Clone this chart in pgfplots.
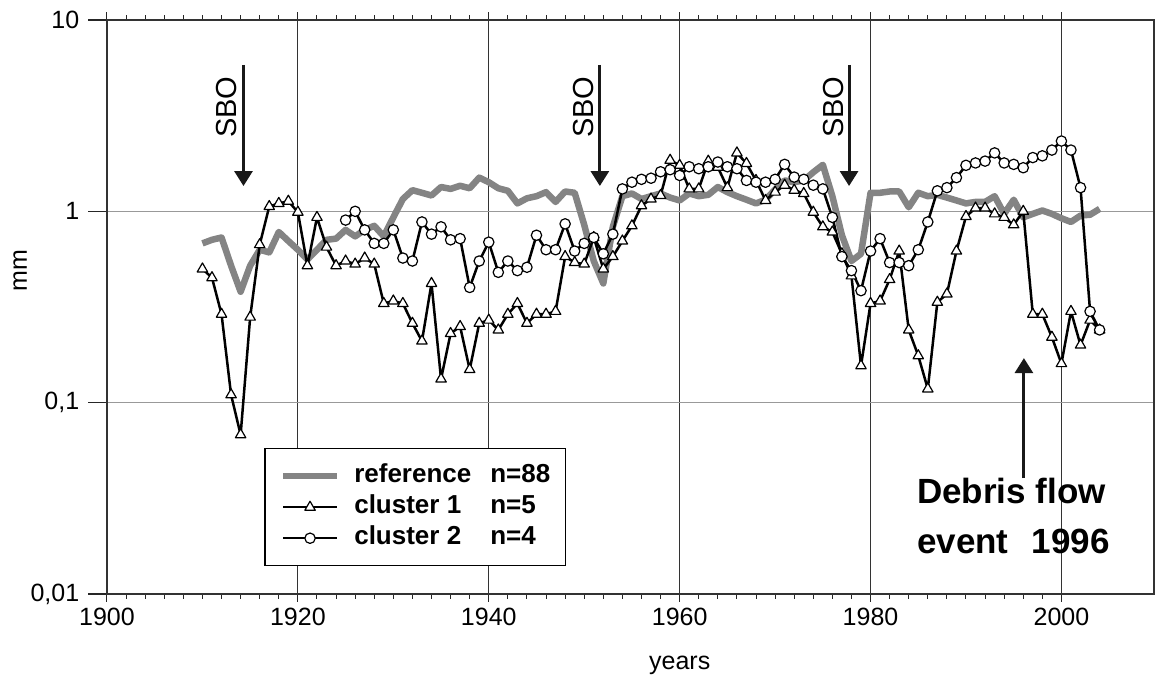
\documentclass[border=0pt]{standalone}
\usepackage{fontspec}
\setmainfont{Liberation Sans}
\usepackage{pgfplots}
\pgfplotsset{compat=1.18}
\usetikzlibrary{arrows.meta}
\definecolor{refgray}{RGB}{132,132,132}

\pgfplotstableread{
x y
1910 0.68
1911 0.71
1912 0.73
1913 0.52
1914 0.38
1915 0.52
1916 0.63
1917 0.61
1918 0.78
1919 0.70
1920 0.63
1921 0.56
1922 0.63
1923 0.71
1924 0.72
1925 0.80
1926 0.74
1927 0.80
1928 0.84
1929 0.74
1930 0.93
1931 1.16
1932 1.29
1933 1.25
1934 1.21
1935 1.34
1936 1.31
1937 1.36
1938 1.32
1939 1.50
1940 1.42
1941 1.32
1942 1.28
1943 1.10
1944 1.17
1945 1.20
1946 1.26
1947 1.12
1948 1.27
1949 1.25
1950 0.85
1951 0.55
1952 0.42
1953 0.83
1954 1.20
1955 1.24
1956 1.16
1957 1.20
1958 1.24
1959 1.18
1960 1.14
1961 1.24
1962 1.20
1963 1.22
1964 1.34
1965 1.26
1966 1.20
1967 1.15
1968 1.10
1969 1.15
1970 1.30
1971 1.45
1972 1.42
1973 1.45
1974 1.60
1975 1.75
1976 1.20
1977 0.75
1978 0.55
1979 0.60
1980 1.25
1981 1.25
1982 1.27
1983 1.27
1984 1.05
1985 1.25
1986 1.20
1987 1.22
1988 1.18
1989 1.14
1990 1.10
1991 1.12
1992 1.12
1993 1.20
1994 0.97
1995 1.15
1996 0.93
1997 0.97
1998 1.01
1999 0.97
2000 0.92
2001 0.88
2002 0.95
2003 0.96
2004 1.03
}\refdata

\pgfplotstableread{
x y
1910 0.50
1911 0.45
1912 0.29
1913 0.11
1914 0.068
1915 0.28
1916 0.67
1917 1.06
1918 1.10
1919 1.13
1920 0.99
1921 0.52
1922 0.93
1923 0.65
1924 0.52
1925 0.55
1926 0.53
1927 0.57
1928 0.53
1929 0.33
1930 0.34
1931 0.33
1932 0.26
1933 0.21
1934 0.42
1935 0.133
1936 0.23
1937 0.25
1938 0.149
1939 0.26
1940 0.27
1941 0.24
1942 0.29
1943 0.33
1944 0.26
1945 0.29
1946 0.29
1947 0.30
1948 0.58
1949 0.54
1950 0.53
1951 0.73
1952 0.50
1953 0.58
1954 0.70
1955 0.84
1956 1.07
1957 1.16
1958 1.21
1959 1.85
1960 1.74
1961 1.31
1962 1.31
1963 1.83
1964 1.70
1965 1.33
1966 2.02
1967 1.78
1968 1.45
1969 1.14
1970 1.26
1971 1.37
1972 1.29
1973 1.24
1974 0.99
1975 0.83
1976 0.78
1977 0.60
1978 0.46
1979 0.156
1980 0.33
1981 0.34
1982 0.44
1983 0.62
1984 0.24
1985 0.176
1986 0.118
1987 0.335
1988 0.37
1989 0.62
1990 0.94
1991 1.04
1992 1.04
1993 0.97
1994 0.93
1995 0.85
1996 1.00
1997 0.29
1998 0.29
1999 0.22
2000 0.16
2001 0.30
2002 0.20
2003 0.27
2004 0.24
}\clusterone

\pgfplotstableread{
x y
1925 0.90
1926 1.00
1927 0.80
1928 0.68
1929 0.68
1930 0.80
1931 0.57
1932 0.55
1933 0.88
1934 0.76
1935 0.83
1936 0.71
1937 0.72
1938 0.40
1939 0.55
1940 0.69
1941 0.48
1942 0.55
1943 0.49
1944 0.51
1945 0.75
1946 0.63
1947 0.63
1948 0.86
1949 0.62
1950 0.68
1951 0.73
1952 0.60
1953 0.76
1954 1.31
1955 1.42
1956 1.47
1957 1.49
1958 1.61
1959 1.65
1960 1.54
1961 1.71
1962 1.67
1963 1.71
1964 1.81
1965 1.71
1966 1.67
1967 1.45
1968 1.42
1969 1.42
1970 1.47
1971 1.76
1972 1.51
1973 1.47
1974 1.37
1975 1.31
1976 0.93
1977 0.58
1978 0.49
1979 0.385
1980 0.62
1981 0.72
1982 0.54
1983 0.54
1984 0.52
1985 0.63
1986 0.88
1987 1.28
1988 1.33
1989 1.50
1990 1.74
1991 1.79
1992 1.83
1993 2.02
1994 1.79
1995 1.76
1996 1.69
1997 1.91
1998 1.95
1999 2.09
2000 2.33
2001 2.09
2002 1.33
2003 0.30
2004 0.24
}\clustertwo

\begin{document}
\begin{tikzpicture}
\useasboundingbox (-107pt,-85pt) rectangle (1048pt,594pt);
\begin{axis}[
  scale only axis,
  width=1047pt, height=574pt,
  xmin=1900, xmax=2009.7,
  ymode=log, ymin=0.01, ymax=10,
  xtick={1900,1920,1940,1960,1980,2000},
  xticklabels={1900,1920,1940,1960,1980,2000},
  minor x tick num=9,
  ytick={0.01,0.1,1,10},
  yticklabels={{0,01},{0,1},{1},{10}},
  yminorticks=false,
  tick align=outside,
  xtick style={/pgfplots/major tick length=8pt,/pgfplots/minor tick length=5pt,black!85,line width=1pt},
  ytick style={/pgfplots/major tick length=19pt,black!85,line width=1.2pt},
  xmajorgrids, ymajorgrids,
  x grid style={black!80,line width=1pt},
  y grid style={black!40,line width=1.3pt},
  axis line style={black!80,line width=1.6pt},
  tick label style={font=\fontsize{25}{30}\selectfont},
  xticklabel style={yshift=-6pt},
  yticklabel style={xshift=-20pt},
  label style={font=\fontsize{25}{30}\selectfont},
  xlabel={years},
  xlabel style={at={(axis description cs:0.547,-0.124)},anchor=center},
  ylabel={mm},
  ylabel style={at={(axis description cs:-0.083,0.564)},anchor=center,rotate=0},
  legend style={at={(axis description cs:0.15,0.2544)},anchor=north west,
    draw=black,line width=1.5pt,fill=white,
    font=\fontsize{26}{28}\selectfont\bfseries,
    inner xsep=15pt,inner ysep=15pt,row sep=6pt,
    nodes={inner sep=0pt,text height=19pt,text depth=6pt},
    cells={anchor=west}},
  legend image code/.code={%
    \draw[mark repeat=2,mark phase=2,#1] plot coordinates {(0pt,0pt) (27pt,0pt) (54pt,0pt)};
    \path (68pt,0pt);},
]
\addplot[refgray,line width=6.5pt,line join=round] table {\refdata};
\addlegendentry{\makebox[136pt][l]{reference}n=88}
\addplot[black,line width=2.5pt,line join=round,mark=triangle*,mark size=6pt,
  mark options={fill=white,draw=black,line width=1.2pt}] table {\clusterone};
\addlegendentry{\makebox[136pt][l]{cluster 1}n=5}
\addplot[black,line width=2.5pt,line join=round,mark=*,mark size=5.2pt,
  mark options={fill=white,draw=black,line width=1.2pt}] table {\clustertwo};
\addlegendentry{\makebox[136pt][l]{cluster 2}n=4}

\draw[black!90,line width=3pt,-{Triangle[length=15pt,width=18pt]}] (axis cs:1914.3,5.82) -- (axis cs:1914.3,1.356);
\draw[black!90,line width=3pt,-{Triangle[length=15pt,width=18pt]}] (axis cs:1951.64,5.82) -- (axis cs:1951.64,1.356);
\draw[black!90,line width=3pt,-{Triangle[length=15pt,width=18pt]}] (axis cs:1977.75,5.82) -- (axis cs:1977.75,1.356);
\node[rotate=90,font=\fontsize{29}{32}\selectfont] at (axis cs:1912.57,3.5) {SBO};
\node[rotate=90,font=\fontsize{29}{32}\selectfont] at (axis cs:1949.9,3.5) {SBO};
\node[rotate=90,font=\fontsize{29}{32}\selectfont] at (axis cs:1976.1,3.5) {SBO};

\draw[black!90,line width=3pt,-{Triangle[length=15pt,width=18pt]}] (axis cs:1996.07,0.0403) -- (axis cs:1996.07,0.171);
\node[anchor=base west,inner sep=0pt,font=\fontsize{35}{40}\selectfont\bfseries] at (axis cs:1984.87,0.02988) {Debris flow};
\node[anchor=base west,inner sep=0pt,font=\fontsize{35}{40}\selectfont\bfseries] at (axis cs:1984.87,0.01637) {event\hspace{23pt}1996};
\end{axis}
\end{tikzpicture}
\end{document}
